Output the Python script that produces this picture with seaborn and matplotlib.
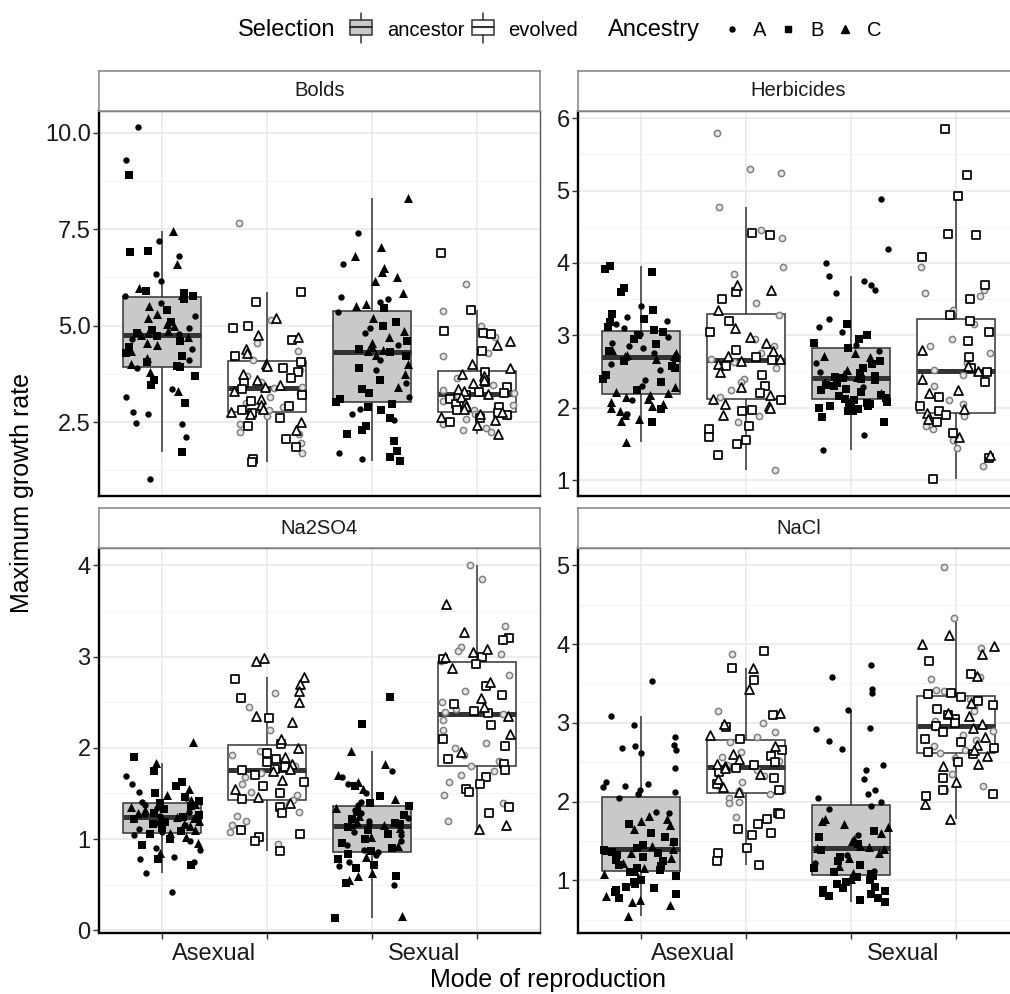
import numpy as np
import pandas as pd
import matplotlib
matplotlib.use("Agg")
import matplotlib.pyplot as plt
import seaborn as sns
from matplotlib.patches import Rectangle

np.random.seed(11)

# ---------------- data ----------------
PANELS = ["Bolds", "Herbicides", "Na2SO4", "NaCl"]
REPRODUCTION = ["Asexual", "Sexual"]
SELECTION = ["ancestor", "evolved"]
ANCESTRY = ["A", "B", "C"]

BOLDS_ASEX_ANC = {
    "A": [10.15, 9.3, 7.2, 6.8, 6.35, 6.15, 5.77, 5.6, 5.25, 4.95, 4.78, 4.65, 4.4, 4.1, 3.9, 3.35, 3.15, 2.75, 2.7, 2.48, 2.45, 2.12, 1.03],
    "B": [8.9, 6.95, 6.9, 5.9, 5.85, 5.78, 5.7, 5.4, 5.1, 4.9, 4.82, 4.72, 4.6, 4.45, 4.3, 4.2, 4.05, 3.95, 3.92, 3.7, 3.6, 3.45, 3.0, 1.73],
    "C": [7.45, 6.6, 5.97, 5.8, 5.5, 5.3, 5.2, 5.05, 5.0, 4.85, 4.8, 4.76, 4.7, 4.55, 4.5, 4.35, 4.15, 4.0, 3.8, 3.3],
}
BOLDS_ASEX_EVO = {
    "A": [7.66, 5.15, 4.55, 4.35, 4.12, 3.85, 3.7, 3.55, 3.42, 3.37, 3.25, 3.15, 3.0, 2.9, 2.8, 2.65, 2.45, 2.25, 2.2, 1.95, 1.7],
    "B": [5.88, 5.62, 4.98, 4.95, 4.62, 4.2, 4.05, 3.9, 3.8, 3.65, 3.5, 3.35, 3.2, 3.05, 2.92, 2.82, 2.73, 2.6, 2.4, 2.05, 1.85, 1.55, 1.45],
    "C": [5.2, 4.75, 4.7, 4.4, 4.3, 4.0, 3.95, 3.75, 3.6, 3.45, 3.4, 3.3, 3.1, 2.95, 2.85, 2.77, 2.7, 2.5, 2.3],
}
BOLDS_SEX_ANC = {
    "A": [7.4, 6.6, 5.75, 5.7, 5.62, 5.35, 4.95, 4.8, 4.5, 4.35, 4.1, 3.85, 3.5, 3.15, 2.85, 2.7, 2.55, 1.7, 1.55],
    "B": [5.45, 5.1, 5.0, 4.6, 4.4, 4.32, 4.2, 3.9, 3.6, 3.35, 3.25, 3.1, 3.02, 2.98, 2.9, 2.8, 2.6, 2.4, 2.3, 2.2, 2.0, 1.75, 1.6, 1.5],
    "C": [8.3, 7.05, 6.8, 6.5, 6.4, 6.25, 6.15, 5.85, 5.55, 5.5, 5.2, 4.85, 4.7, 4.55, 4.45, 4.38, 4.33, 4.25, 4.0, 3.75, 3.4],
}
BOLDS_SEX_EVO = {
    "A": [6.07, 5.38, 5.0, 4.7, 4.3, 4.2, 3.65, 3.45, 3.32, 3.26, 3.24, 3.18, 3.05, 2.95, 2.88, 2.8, 2.72, 2.65, 2.58, 2.45, 2.35, 2.3, 2.25],
    "B": [6.88, 5.4, 4.85, 4.8, 4.78, 4.35, 3.8, 3.55, 3.4, 3.28, 3.25, 3.2, 3.1, 2.98, 2.9, 2.82, 2.74, 2.68, 2.6, 2.5],
    "C": [4.6, 4.5, 4.0, 3.9, 3.75, 3.7, 3.6, 3.5, 3.35, 3.3, 3.23, 3.15, 3.0, 2.92, 2.85, 2.77, 2.7, 2.62, 2.55, 2.42, 2.18],
}
HERB_ASEX_ANC = {
    "A": [3.4, 3.25, 3.2, 3.15, 3.1, 3.02, 2.98, 2.9, 2.85, 2.82, 2.75, 2.6, 2.52, 2.38, 2.3, 2.1, 1.92],
    "B": [3.96, 3.92, 3.88, 3.65, 3.6, 3.35, 3.3, 3.22, 3.18, 3.12, 3.08, 3.05, 3.0, 2.95, 2.88, 2.78, 2.65, 2.58, 2.55, 2.45, 2.4, 2.35, 2.25, 1.98, 1.8],
    "C": [2.8, 2.76, 2.73, 2.72, 2.71, 2.70, 2.68, 2.28, 2.22, 2.2, 2.18, 2.15, 2.12, 2.08, 2.05, 2.02, 2.0, 1.95, 1.9, 1.85, 1.82, 1.53],
}
HERB_ASEX_EVO = {
    "A": [5.8, 5.3, 5.25, 4.78, 4.46, 4.35, 3.95, 3.85, 3.45, 3.28, 2.95, 2.85, 2.75, 2.68, 2.63, 2.55, 2.4, 2.36, 2.25, 2.15, 1.88, 1.8, 1.14],
    "B": [4.42, 4.38, 3.6, 3.5, 3.2, 3.05, 2.8, 2.7, 2.66, 2.58, 2.45, 2.3, 2.2, 2.1, 1.97, 1.95, 1.75, 1.7, 1.6, 1.55, 1.5, 1.35],
    "C": [3.7, 3.62, 3.35, 3.1, 2.98, 2.9, 2.78, 2.72, 2.67, 2.65, 2.6, 2.5, 2.28, 2.18, 2.12, 2.05, 2.02, 2.0, 1.9],
}
HERB_SEX_ANC = {
    "A": [4.88, 4.2, 4.0, 3.82, 3.75, 3.7, 3.62, 3.58, 3.23, 3.12, 3.05, 2.86, 2.78, 2.62, 2.5, 2.28, 1.62, 1.41],
    "B": [3.15, 3.0, 2.95, 2.9, 2.82, 2.65, 2.6, 2.55, 2.48, 2.44, 2.42, 2.41, 2.4, 2.38, 2.34, 2.32, 2.3, 2.26, 2.24,
          2.22, 2.18, 2.16, 2.14, 2.12, 2.1, 2.08, 2.07, 2.06, 2.05, 2.04, 2.03, 2.02, 2.0, 1.98, 1.96, 1.95, 1.87, 1.8],
    "C": [2.75, 2.72, 2.7, 2.52, 2.46, 2.43, 2.36, 2.2],
}
HERB_SEX_EVO = {
    "A": [3.95, 3.62, 3.58, 3.55, 3.35, 3.15, 2.95, 2.85, 2.75, 2.62, 2.52, 2.45, 2.3, 2.1, 2.05, 1.88, 1.75, 1.7, 1.55, 1.45, 1.2],
    "B": [5.85, 5.22, 4.93, 4.4, 4.38, 4.08, 3.7, 3.5, 3.28, 3.2, 3.05, 2.92, 2.7, 2.55, 2.5, 2.35, 2.15, 2.02, 1.95, 1.9, 1.8, 1.65, 1.3, 1.02],
    "C": [2.8, 2.58, 2.51, 2.4, 2.25, 2.2, 1.98, 1.93, 1.85, 1.6, 1.35],
}
NA2SO4_ASEX_ANC = {
    "A": [1.69, 1.6, 1.52, 1.45, 1.41, 1.37, 1.34, 1.3, 1.27, 1.25, 1.235, 1.21, 1.18, 1.15, 1.11, 1.08, 1.04, 0.98, 0.9, 0.88, 0.8, 0.78, 0.75, 0.63, 0.42],
    "B": [1.9, 1.75, 1.62, 1.58, 1.5, 1.46, 1.42, 1.39, 1.36, 1.33, 1.29, 1.26, 1.24, 1.22, 1.19, 1.16, 1.12, 1.09, 1.05, 1.0, 0.93, 0.78, 0.72],
    "C": [2.06, 1.83, 1.55, 1.48, 1.43, 1.38, 1.35, 1.32, 1.28, 1.26, 1.245, 1.23, 1.2, 1.17, 1.14, 1.1, 1.07, 1.02, 0.96, 0.85],
}
NA2SO4_ASEX_EVO = {
    "A": [2.6, 2.45, 2.2, 1.97, 1.92, 1.86, 1.8, 1.78, 1.76, 1.72, 1.68, 1.6, 1.52, 1.48, 1.43, 1.38, 1.3, 1.25, 1.2, 1.15, 1.08, 0.95],
    "B": [2.75, 2.55, 2.33, 2.04, 1.94, 1.88, 1.84, 1.79, 1.765, 1.755, 1.7, 1.62, 1.58, 1.5, 1.44, 1.35, 1.28, 1.1, 1.05, 1.02, 0.98, 0.87],
    "C": [2.98, 2.95, 2.78, 2.7, 2.62, 2.5, 2.35, 2.28, 2.1, 2.0, 1.9, 1.82, 1.77, 1.75, 1.65, 1.55, 1.46, 1.4],
}
NA2SO4_SEX_ANC = {
    "A": [1.75, 1.68, 1.6, 1.5, 1.41, 1.37, 1.32, 1.28, 1.23, 1.2, 1.17, 1.14, 1.13, 1.08, 1.04, 0.98, 0.94, 0.88, 0.86, 0.82, 0.75, 0.7, 0.5],
    "B": [2.56, 2.26, 1.58, 1.47, 1.39, 1.36, 1.3, 1.26, 1.22, 1.18, 1.16, 1.135, 1.1, 1.06, 1.0, 0.96, 0.9, 0.87, 0.84, 0.78, 0.72, 0.68, 0.6, 0.52, 0.13],
    "C": [1.97, 1.82, 1.7, 1.62, 1.55, 1.44, 1.34, 1.25, 1.19, 1.15, 1.12, 1.02, 0.92, 0.8, 0.63, 0.6, 0.55, 0.16],
}
NA2SO4_SEX_EVO = {
    "A": [4.0, 3.85, 3.34, 3.1, 3.06, 3.03, 2.95, 2.8, 2.62, 2.5, 2.42, 2.39, 2.37, 2.3, 2.2, 2.05, 2.0, 1.92, 1.85, 1.8, 1.75, 1.7, 1.62, 1.48, 1.4, 1.2],
    "B": [3.2, 3.18, 3.0, 2.97, 2.92, 2.68, 2.58, 2.48, 2.4, 2.38, 2.25, 2.1, 2.02, 1.88, 1.82, 1.76, 1.68, 1.6, 1.55, 1.52, 1.35, 1.28],
    "C": [3.58, 3.27, 3.08, 3.05, 2.99, 2.88, 2.72, 2.55, 2.45, 2.35, 2.15, 1.95, 1.15, 1.11],
}
NACL_ASEX_ANC = {
    "A": [3.53, 3.08, 2.97, 2.82, 2.72, 2.7, 2.68, 2.66, 2.62, 2.43, 2.25, 2.22, 2.2, 2.18, 2.15, 2.12, 2.1, 2.05, 1.87, 1.85],
    "B": [1.72, 1.6, 1.55, 1.48, 1.45, 1.41, 1.39, 1.36, 1.35, 1.32, 1.3, 1.26, 1.24, 1.2, 1.18, 1.15, 1.13, 1.1,
          1.05, 1.0, 0.98, 0.95, 0.92, 0.9, 0.88, 0.85, 0.82, 0.78],
    "C": [1.82, 1.78, 1.75, 1.7, 1.65, 1.5, 1.43, 1.4, 1.38, 1.34, 1.28, 1.22, 1.16, 1.12, 1.08, 0.8, 0.75, 0.72, 0.68, 0.55],
}
NACL_ASEX_EVO = {
    "A": [3.88, 3.15, 3.0, 2.88, 2.82, 2.75, 2.63, 2.56, 2.52, 2.47, 2.44, 2.4, 2.32, 2.25, 2.2, 2.13, 2.1, 2.05, 2.0, 1.98, 1.8],
    "B": [3.91, 3.69, 3.54, 3.1, 2.95, 2.79, 2.66, 2.58, 2.5, 2.46, 2.43, 2.38, 2.3, 2.22, 2.15, 1.85, 1.84, 1.78, 1.72,
          1.65, 1.6, 1.57, 1.41, 1.35, 1.25, 1.2],
    "C": [3.7, 3.43, 3.13, 2.98, 2.85, 2.7, 2.6, 2.54, 2.48, 2.45, 2.42, 2.35, 2.28, 2.18, 2.12],
}
NACL_SEX_ANC = {
    "A": [3.73, 3.58, 3.43, 3.38, 3.16, 2.94, 2.92, 2.77, 2.67, 2.46, 2.4, 2.28, 2.14, 2.1, 2.05, 2.0, 1.94, 1.9, 1.58, 1.32, 1.22, 1.12],
    "B": [1.62, 1.55, 1.46, 1.38, 1.3, 1.25, 1.2, 1.15, 1.1, 1.08, 1.07, 1.05, 1.04, 1.0, 0.98, 0.95, 0.92, 0.9, 0.88,
          0.86, 0.84, 0.82, 0.8, 0.78, 0.75, 0.73],
    "C": [1.78, 1.75, 1.72, 1.68, 1.6, 1.52, 1.5, 1.44, 1.42, 1.41, 1.40, 1.35, 1.28, 1.18, 1.09, 1.02],
}
NACL_SEX_EVO = {
    "A": [4.98, 4.33, 3.95, 3.58, 3.55, 3.42, 3.4, 3.3, 3.2, 3.15, 3.02, 2.95, 2.9, 2.85, 2.78, 2.7, 2.66, 2.62, 2.55, 2.35, 2.2, 2.15],
    "B": [3.78, 3.62, 3.38, 3.36, 3.33, 3.28, 3.22, 3.18, 3.1, 3.05, 3.0, 2.96, 2.88, 2.8, 2.75, 2.68, 2.63, 2.6, 2.5, 2.3, 2.14, 2.1, 2.07],
    "C": [4.11, 4.0, 3.97, 3.88, 3.6, 3.25, 3.12, 3.08, 2.98, 2.93, 2.82, 2.72, 2.65, 2.58, 2.48, 2.45, 2.25, 1.97, 1.78],
}

SOURCES = [
    ("Bolds", "Asexual", "ancestor", BOLDS_ASEX_ANC), ("Bolds", "Asexual", "evolved", BOLDS_ASEX_EVO),
    ("Bolds", "Sexual", "ancestor", BOLDS_SEX_ANC), ("Bolds", "Sexual", "evolved", BOLDS_SEX_EVO),
    ("Herbicides", "Asexual", "ancestor", HERB_ASEX_ANC), ("Herbicides", "Asexual", "evolved", HERB_ASEX_EVO),
    ("Herbicides", "Sexual", "ancestor", HERB_SEX_ANC), ("Herbicides", "Sexual", "evolved", HERB_SEX_EVO),
    ("Na2SO4", "Asexual", "ancestor", NA2SO4_ASEX_ANC), ("Na2SO4", "Asexual", "evolved", NA2SO4_ASEX_EVO),
    ("Na2SO4", "Sexual", "ancestor", NA2SO4_SEX_ANC), ("Na2SO4", "Sexual", "evolved", NA2SO4_SEX_EVO),
    ("NaCl", "Asexual", "ancestor", NACL_ASEX_ANC), ("NaCl", "Asexual", "evolved", NACL_ASEX_EVO),
    ("NaCl", "Sexual", "ancestor", NACL_SEX_ANC), ("NaCl", "Sexual", "evolved", NACL_SEX_EVO),
]

Y_TICKS = {
    "Bolds": [2.5, 5.0, 7.5, 10.0],
    "Herbicides": [1, 2, 3, 4, 5, 6],
    "Na2SO4": [0, 1, 2, 3, 4],
    "NaCl": [1, 2, 3, 4, 5],
}
Y_TICK_LABELS = {
    "Bolds": ["2.5", "5.0", "7.5", "10.0"],
    "Herbicides": ["1", "2", "3", "4", "5", "6"],
    "Na2SO4": ["0", "1", "2", "3", "4"],
    "NaCl": ["1", "2", "3", "4", "5"],
}

rows = []
for panel, repro, sel, d in SOURCES:
    for anc in ANCESTRY:
        for v in d[anc]:
            rows.append({"panel": panel, "reproduction": repro, "selection": sel,
                         "ancestry": anc, "group": f"{repro} {sel}", "value": v})
df = pd.DataFrame(rows)

GROUPS = [f"{r} {s}" for r in REPRODUCTION for s in SELECTION]

# ---------------- style ----------------
sns.set_theme(style="white")
plt.rcParams["font.family"] = ["Liberation Sans", "DejaVu Sans"]

W, H = 1010, 994
fig = plt.figure(figsize=(W / 100, H / 100), dpi=100)


def px_axes(x0, y0, x1, y1):
    return fig.add_axes([x0 / W, 1 - y1 / H, (x1 - x0) / W, (y1 - y0) / H])


PANEL_PX = {
    "Bolds": (99, 111, 540, 496),
    "Herbicides": (578, 111, 1019, 496),
    "Na2SO4": (99, 548, 540, 933),
    "NaCl": (578, 548, 1019, 933),
}
Y_LIMS = {"Bolds": (0.58, 10.57), "Herbicides": (0.78, 6.1),
          "Na2SO4": (-0.03, 4.19), "NaCl": (0.33, 5.22)}

GREY = "#c9c9c9"
BOX_FILL = {g: (GREY if g.endswith("ancestor") else "white") for g in GROUPS}
LINE = "#333333"
TEXT = "#1a1a1a"

POINT_STYLE = {
    ("ancestor", "A"): dict(marker="o", size=4.6, color="black", linewidth=0),
    ("ancestor", "B"): dict(marker="s", size=5.8, color="black", linewidth=0),
    ("ancestor", "C"): dict(marker="^", size=6.5, color="black", linewidth=0),
    ("evolved", "A"): dict(marker="o", size=4.5, color="#e6e6e6", edgecolor="#808080", linewidth=1.1),
    ("evolved", "B"): dict(marker="s", size=5.8, color="white", edgecolor="black", linewidth=1.25),
    ("evolved", "C"): dict(marker="^", size=6.5, color="white", edgecolor="black", linewidth=1.25),
}

for p in PANELS:
    x0, y0, x1, y1 = PANEL_PX[p]
    ax = px_axes(x0, y0, x1, y1)
    sub = df[df["panel"] == p]
    sns.boxplot(data=sub, x="group", y="value", order=GROUPS, hue="group", hue_order=GROUPS,
                palette=BOX_FILL, dodge=False, width=0.75, showfliers=False, showcaps=False,
                saturation=1, linewidth=1.1, linecolor=LINE, legend=False, ax=ax,
                medianprops=dict(color=LINE, linewidth=3.6))
    for (sel, anc), st in POINT_STYLE.items():
        s = sub[(sub["selection"] == sel) & (sub["ancestry"] == anc)]
        sns.stripplot(data=s, x="group", y="value", order=GROUPS, jitter=0.36,
                      ax=ax, zorder=3, **st)

    ax.set_xlabel("")
    ax.set_ylabel("")
    yt = Y_TICKS[p]
    ax.set_yticks(yt)
    ax.set_yticklabels(Y_TICK_LABELS[p])
    step = yt[1] - yt[0]
    ax.set_yticks([t - step / 2 for t in yt] + [yt[-1] + step / 2], minor=True)
    ax.set_xticks([0, 1, 2, 3])
    ax.set_xticklabels([])
    ax.set_axisbelow(True)
    ax.grid(True, which="major", axis="both", color="#e8e8e8", linewidth=1.1)
    ax.grid(True, which="minor", axis="y", color="#f2f2f2", linewidth=0.6)
    ax.tick_params(axis="y", which="major", direction="out", length=4, width=1,
                   color=LINE, labelsize=17, labelcolor=TEXT, pad=2, left=True)
    ax.tick_params(axis="y", which="minor", length=0)
    bottom_row = p in ("Na2SO4", "NaCl")
    if bottom_row:
        ax.tick_params(axis="x", which="major", direction="out", length=4, width=1,
                       color=LINE, bottom=True)
        ax.set_xticks([0.5, 2.5], minor=True)
        ax.set_xticklabels(REPRODUCTION, minor=True)
        ax.tick_params(axis="x", which="minor", length=0, labelsize=17, labelcolor=TEXT, pad=7)
    else:
        ax.tick_params(axis="x", which="both", length=0)
    # limits last: setting ticks may widen the view
    ax.set_xlim(-0.6, 3.6)
    ax.set_ylim(*Y_LIMS[p])
    for side in ("top", "right"):
        ax.spines[side].set_color("#555555")
        ax.spines[side].set_linewidth(1.0)
    for side in ("left", "bottom"):
        ax.spines[side].set_color("black")
        ax.spines[side].set_linewidth(1.7)

    # facet strip
    sax = px_axes(x0, y0 - 40, x1, y0)
    sax.set_xticks([])
    sax.set_yticks([])
    sax.set_facecolor("white")
    for sp in sax.spines.values():
        sp.set_color("#8c8c8c")
        sp.set_linewidth(1.2)
    sax.text(0.5, 0.5, p, ha="center", va="center", fontsize=14.5, color=TEXT,
             transform=sax.transAxes)

# axis titles
fig.text(22 / W, 1 - 493 / H, "Maximum growth rate", rotation=90, ha="center", va="center",
         fontsize=18, color="black")
fig.text(548 / W, 1 - 980 / H, "Mode of reproduction", ha="center", va="center",
         fontsize=18, color="black")

# legend (top)
lax = fig.add_axes([0, 1 - 60 / H, 1, 60 / H])
lax.set_xlim(0, W)
lax.set_ylim(60, 0)
lax.axis("off")
lax.text(238, 30, "Selection", fontsize=17, va="center", ha="left", color="black")
for bx, fc, label, tx in [(350, GREY, "ancestor", 387), (472, "white", "evolved", 508)]:
    lax.add_patch(Rectangle((bx, 19.5), 21.5, 15.5, facecolor=fc, edgecolor=LINE, lw=1.1))
    lax.plot([bx, bx + 21.5], [27.2, 27.2], color=LINE, lw=1.5)
    lax.plot([bx + 10.75] * 2, [13, 19.5], color=LINE, lw=1.1)
    lax.plot([bx + 10.75] * 2, [35, 43], color=LINE, lw=1.1)
    lax.text(tx, 30, label, fontsize=14.5, va="center", ha="left", color="black")
lax.text(608, 30, "Ancestry", fontsize=17, va="center", ha="left", color="black")
for mx, mk, ms, lab, tx in [(732, "o", 3.6, "A", 753), (788, "s", 4.8, "B", 810), (845, "^", 5.2, "C", 867)]:
    lax.plot([mx], [29], marker=mk, ms=ms, color="black", linestyle="none")
    lax.text(tx, 30, lab, fontsize=14.5, va="center", ha="left", color="black")

fig.savefig("out.png", dpi=100)
